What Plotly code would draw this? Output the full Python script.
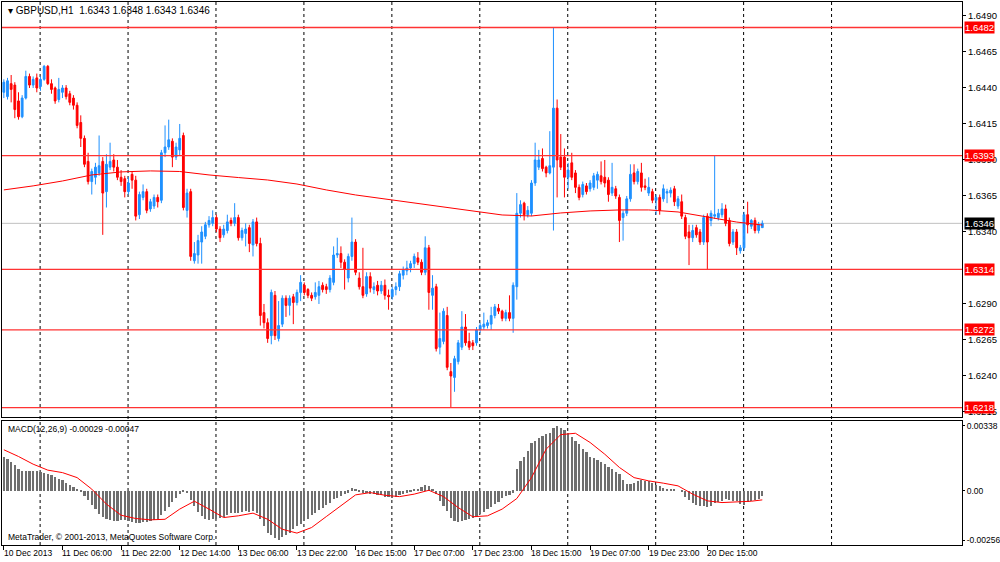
import plotly.graph_objects as go

# prices are kept in pips above 1.6000 (1 pip = 0.0001)
BASE = 1.6
PIP = 0.0001

open_pips = [
    437, 434, 443, 442, 431, 420, 433, 448, 442, 447,
    441, 446, 455, 443, 440, 432, 437, 440, 436, 433,
    428, 416, 405, 389, 375, 378, 381, 389, 368, 385,
    390, 385, 378, 377, 368, 380, 376, 352, 364, 368,
    356, 358, 364, 362, 395, 399, 403, 392, 397, 407,
    355, 368, 320, 324, 333, 337, 345, 346, 350, 342,
    338, 341, 348, 346, 350, 336, 339, 343, 331, 347,
    332, 284, 277, 268, 296, 266, 276, 294, 289, 295,
    291, 298, 303, 300, 296, 295, 296, 303, 302, 300,
    305, 324, 325, 319, 308, 323, 333, 308, 302, 297,
    309, 300, 303, 299, 303, 296, 295, 300, 302, 310,
    313, 315, 318, 322, 319, 312, 329, 296, 302, 260,
    264, 282, 243, 239, 250, 260, 274, 264, 263, 263,
    272, 274, 275, 276, 282, 287, 285, 280, 284, 280,
    302, 353, 360, 352, 353, 374, 385, 391, 385, 381,
    385, 426, 392, 392, 378, 388, 381, 371, 366, 372,
    370, 371, 376, 379, 378, 376, 367, 370, 364, 350,
    353, 363, 381, 375, 381, 372, 367, 368, 362, 364,
    363, 367, 367, 370, 358, 361, 350, 340, 336, 343,
    340, 333, 351, 348, 351, 350, 352, 356, 348, 333,
    340, 327, 329, 352, 344, 348, 341, 343,
]
high_pips = [
    446, 447, 449, 444, 437, 435, 452, 450, 448, 450,
    448, 456, 456, 446, 441, 447, 442, 442, 438, 435,
    430, 421, 407, 395, 384, 388, 407, 392, 394, 402,
    394, 390, 383, 379, 378, 382, 379, 368, 373, 370,
    363, 366, 366, 397, 414, 418, 405, 402, 415, 409,
    370, 370, 333, 338, 344, 347, 351, 355, 352, 344,
    345, 352, 350, 360, 352, 343, 346, 345, 349, 350,
    336, 290, 280, 300, 299, 292, 296, 296, 296, 297,
    300, 310, 305, 301, 298, 305, 306, 305, 304, 310,
    330, 336, 330, 321, 325, 350, 335, 312, 329, 312,
    312, 305, 306, 306, 307, 300, 302, 305, 313, 316,
    320, 320, 325, 326, 321, 337, 331, 310, 304, 284,
    287, 288, 249, 254, 265, 285, 283, 270, 265, 274,
    277, 284, 279, 288, 290, 290, 286, 286, 296, 305,
    367, 362, 361, 358, 376, 402, 397, 398, 386, 410,
    482, 432, 408, 398, 388, 395, 383, 373, 375, 374,
    376, 381, 382, 389, 390, 378, 388, 372, 366, 355,
    365, 387, 387, 384, 388, 377, 378, 370, 366, 366,
    373, 370, 371, 372, 365, 366, 352, 345, 345, 345,
    342, 352, 353, 355, 393, 356, 360, 359, 350, 342,
    342, 331, 354, 361, 349, 350, 347, 348,
]
low_pips = [
    433, 432, 430, 419, 418, 419, 432, 440, 440, 437,
    438, 445, 442, 436, 429, 430, 433, 432, 428, 425,
    412, 399, 385, 373, 366, 373, 379, 338, 357, 383,
    382, 376, 372, 364, 366, 370, 348, 349, 362, 353,
    354, 356, 357, 360, 392, 397, 385, 390, 393, 355,
    350, 320, 318, 318, 318, 335, 343, 344, 340, 333,
    336, 339, 344, 344, 334, 334, 330, 326, 323, 330,
    275, 273, 263, 262, 265, 264, 274, 281, 282, 276,
    289, 292, 296, 294, 292, 293, 290, 298, 297, 298,
    303, 322, 315, 300, 305, 320, 310, 300, 294, 295,
    298, 297, 296, 297, 293, 286, 293, 296, 299, 307,
    310, 312, 315, 317, 310, 310, 286, 286, 257, 255,
    262, 244, 218, 229, 248, 258, 261, 258, 258, 261,
    270, 272, 273, 272, 280, 283, 278, 278, 278, 270,
    293, 350, 348, 350, 351, 372, 383, 382, 378, 380,
    341, 364, 383, 364, 370, 376, 367, 362, 364, 366,
    368, 369, 370, 373, 371, 361, 365, 363, 333, 334,
    351, 361, 373, 373, 368, 369, 365, 360, 352, 352,
    361, 360, 364, 358, 356, 349, 335, 317, 333, 336,
    331, 331, 314, 344, 349, 348, 350, 344, 330, 331,
    324, 325, 327, 339, 342, 339, 339, 343,
]
close_pips = [
    444, 445, 439, 425, 420, 433, 448, 442, 446, 440,
    446, 455, 443, 439, 431, 439, 440, 434, 430, 428,
    414, 405, 387, 375, 382, 385, 386, 367, 387, 389,
    385, 378, 375, 368, 374, 376, 351, 366, 368, 355,
    361, 364, 361, 395, 399, 404, 392, 399, 405, 357,
    367, 323, 325, 334, 340, 345, 348, 350, 342, 336,
    342, 347, 346, 350, 336, 341, 342, 332, 347, 332,
    282, 277, 266, 298, 268, 275, 294, 289, 294, 291,
    298, 305, 298, 296, 294, 298, 302, 300, 300, 308,
    324, 325, 319, 314, 323, 333, 312, 302, 296, 309,
    301, 302, 299, 303, 296, 295, 300, 302, 311, 314,
    315, 318, 323, 319, 312, 329, 298, 301, 259, 266,
    285, 246, 240, 252, 263, 274, 263, 260, 261, 272,
    275, 276, 277, 282, 288, 285, 280, 284, 280, 303,
    353, 359, 352, 355, 374, 390, 390, 384, 381, 386,
    426, 390, 385, 378, 383, 378, 371, 364, 373, 368,
    374, 379, 380, 375, 374, 366, 371, 365, 348, 353,
    363, 380, 375, 382, 371, 371, 371, 362, 364, 355,
    370, 368, 369, 361, 363, 351, 337, 336, 341, 338,
    333, 350, 333, 353, 352, 353, 356, 346, 332, 340,
    329, 329, 352, 345, 348, 341, 345, 346,
]

# moving average, read every 8th bar
ma_bars = list(range(0, 201, 8)) + [207]
ma_pips = [
    369.2, 372.0, 375.4, 379.6, 381.7, 382.4, 382.0, 379.6, 377.8, 376.1,
    373.3, 369.2, 365.7, 362.9, 360.1, 357.4, 354.6, 351.8, 351.1, 353.2,
    354.6, 355.3, 355.3, 353.9, 350.4, 346.9, 344.8,
]

# MACD(12,26,9) in units of 0.00001
macd_main = [
    174, 165, 151, 134, 113, 104, 104, 104, 104, 102,
    99, 95, 90, 82, 73, 64, 56, 43, 33, 21,
    9, -5, -26, -47, -73, -95, -122, -134, -144, -153,
    -158, -156, -151, -151, -156, -161, -168, -165, -161, -161,
    -158, -151, -144, -127, -104, -82, -57, -35, -17, -5,
    -12, -47, -78, -109, -130, -148, -151, -148, -144, -139,
    -134, -127, -116, -113, -113, -109, -104, -109, -104, -113,
    -148, -182, -217, -231, -248, -256, -240, -231, -217, -200,
    -182, -174, -156, -144, -127, -113, -99, -87, -73, -61,
    -43, -35, -26, -17, -9, 14, 5, -5, -9, -12,
    -16, -17, -21, -23, -30, -31, -35, -30, -23, -14,
    -9, -2, 5, 12, 19, 30, 23, 9, -17, -52,
    -78, -104, -139, -156, -161, -156, -153, -148, -142, -135,
    -122, -108, -92, -82, -66, -56, -35, -26, -23, -9,
    113, 156, 174, 208, 252, 260, 278, 286, 295, 304,
    325, 338, 330, 318, 300, 281, 260, 243, 220, 203,
    179, 170, 160, 151, 142, 127, 116, 99, 87, 57,
    35, 36, 43, 52, 59, 54, 50, 43, 33, 24,
    16, 10, 9, 5, 0, -5, -31, -47, -61, -71,
    -78, -78, -82, -78, -61, -57, -52, -43, -47, -52,
    -54, -69, -71, -57, -52, -50, -43, -29,
]
signal_bars = list(range(0, 205, 4)) + [207]
signal_vals = [
    214, 179, 139, 108, 95, 69, 9, -69, -127, -144,
    -151, -148, -95, -54, -95, -139, -130, -116, -148, -200,
    -220, -191, -134, -78, -21, -9, -23, -30, -17, 3,
    -30, -87, -135, -130, -95, -40, 69, 217, 293, 300,
    252, 191, 122, 69, 52, 40, 26, -17, -52, -61,
    -57, -54, -47,
]

level_prices = [1.6482, 1.6393, 1.6314, 1.6272, 1.6218]
bid_price = 1.6346

time_labels = [
    "10 Dec 2013", "11 Dec 06:00", "11 Dec 22:00", "12 Dec 14:00", "13 Dec 06:00",
    "13 Dec 22:00", "16 Dec 15:00", "17 Dec 07:00", "17 Dec 23:00", "18 Dec 15:00",
    "19 Dec 07:00", "19 Dec 23:00", "20 Dec 15:00",
]
time_label_bars = [0, 16, 32, 48, 64, 80, 96, 112, 128, 144, 160, 176, 192]

# 1.6315 sits fully under the 1.6314 level label in the reference
price_ticks = [1.6490, 1.6465, 1.6440, 1.6415, 1.6390, 1.6365, 1.6340,
               1.6290, 1.6265, 1.6240, 1.6215]
macd_ticks = [0.00338, 0.0, -0.00256]
macd_tick_text = ["0.00338", "0.00", "-0.00256"]

BLUE = "#1e90ff"
RED = "#ff0000"
FONT = "Liberation Sans"

bars = list(range(len(close_pips)))
to_price = lambda vals: [BASE + v * PIP for v in vals]

fig = go.Figure()

fig.add_trace(go.Candlestick(
    x=bars, open=to_price(open_pips), high=to_price(high_pips),
    low=to_price(low_pips), close=to_price(close_pips),
    increasing=dict(line=dict(color=BLUE, width=1), fillcolor=BLUE),
    decreasing=dict(line=dict(color=RED, width=1), fillcolor=RED),
    whiskerwidth=0, showlegend=False, hoverinfo="skip",
    xaxis="x", yaxis="y",
))
fig.add_trace(go.Scatter(
    x=ma_bars, y=to_price(ma_pips), mode="lines",
    line=dict(color=RED, width=1), showlegend=False, hoverinfo="skip",
    xaxis="x", yaxis="y",
))
fig.add_trace(go.Bar(
    x=bars, y=[v * 1e-5 for v in macd_main], width=0.6,
    marker=dict(color="#6f6f6f", line=dict(width=0)),
    showlegend=False, hoverinfo="skip", xaxis="x2", yaxis="y2",
))
fig.add_trace(go.Scatter(
    x=signal_bars, y=[v * 1e-5 for v in signal_vals], mode="lines",
    line=dict(color=RED, width=1), showlegend=False, hoverinfo="skip",
    xaxis="x2", yaxis="y2",
))

shapes = []
# dashed vertical grid across both panels
for k in range(10):
    gx = 9.9 + 24 * k
    shapes.append(dict(type="line", xref="x", yref="paper", x0=gx, x1=gx, y0=0, y1=1,
                       line=dict(color="black", width=1, dash="3px,3px"), layer="below"))
shapes.append(dict(type="line", xref="x domain", yref="y", x0=0, x1=1,
                   y0=bid_price, y1=bid_price, line=dict(color="#c0c0c0", width=1),
                   layer="below"))
for p in level_prices:
    shapes.append(dict(type="line", xref="x domain", yref="y", x0=0, x1=1, y0=p, y1=p,
                       line=dict(color="#ff3333", width=1.4)))

annotations = [
    dict(xref="paper", yref="paper", x=0, y=1, xanchor="left", yanchor="top",
         xshift=4, yshift=-1, showarrow=False,
         text="\u25be GBPUSD,H1  " + " ".join(
             f"{BASE + v[-1] * PIP:.4f}" for v in (open_pips, high_pips, low_pips, close_pips)),
         font=dict(family=FONT, size=10, color="black")),
    dict(xref="paper", yref="y2 domain", x=0, y=1, xanchor="left", yanchor="top",
         xshift=4, yshift=-1, showarrow=False,
         text=f"MACD(12,26,9) {macd_main[-1] * 1e-5:.5f} {signal_vals[-1] * 1e-5:.5f}",
         font=dict(family=FONT, size=8.5, color="black")),
    dict(xref="paper", yref="y2 domain", x=0, y=0, xanchor="left", yanchor="bottom",
         xshift=4, yshift=1, showarrow=False,
         text="MetaTrader, \u00a9 2001-2013, MetaQuotes Software Corp.",
         font=dict(family=FONT, size=8.5, color="black")),
]
for p in level_prices:
    annotations.append(dict(xref="paper", yref="y", x=1, y=p, xanchor="left", yanchor="middle",
                            xshift=2, showarrow=False, text=f"{p:.4f}", bgcolor="#ff0000",
                            borderpad=0, font=dict(family=FONT, size=9.5, color="white")))
annotations.append(dict(xref="paper", yref="y", x=1, y=bid_price, xanchor="left",
                        yanchor="middle", xshift=2, showarrow=False, text=f"{bid_price:.4f}",
                        bgcolor="black", borderpad=0,
                        font=dict(family=FONT, size=9.5, color="white")))
for lab, b in zip(time_labels, time_label_bars):
    annotations.append(dict(xref="x2", yref="paper", x=b, y=0, xanchor="left", yanchor="top",
                            xshift=-2, yshift=-1, showarrow=False, text=lab,
                            font=dict(family=FONT, size=8.5, color="black")))

xrange = [-0.5, 261.5]
frame = dict(showline=True, mirror=True, linecolor="black", linewidth=1, zeroline=False,
             showgrid=False, fixedrange=True)

fig.update_layout(
    width=1000, height=562,
    margin=dict(l=2, r=38, t=2, b=17, autoexpand=False),
    paper_bgcolor="white", plot_bgcolor="white",
    font=dict(family=FONT, size=9, color="black"),
    showlegend=False,
    bargap=0,
    xaxis=dict(domain=[0, 1], range=xrange, anchor="y", showticklabels=False, ticks="",
               rangeslider=dict(visible=False), **frame),
    xaxis2=dict(domain=[0, 1], range=xrange, anchor="y2", tickmode="array",
                tickvals=time_label_bars, showticklabels=False, ticks="outside", ticklen=4,
                tickcolor="black", **frame),
    yaxis=dict(domain=[0.2357, 1], range=[1.62115, 1.64997], anchor="x", side="right",
               tickmode="array", tickvals=price_ticks,
               ticktext=[f"{t:.4f}" for t in price_ticks], ticks="outside", ticklen=3,
               tickcolor="black", tickfont=dict(family=FONT, size=9.5), **frame),
    yaxis2=dict(domain=[0, 0.2284], range=[-0.00282, 0.00364], anchor="x2", side="right",
                tickmode="array", tickvals=macd_ticks, ticktext=macd_tick_text,
                ticks="outside", ticklen=2, tickcolor="black",
                tickfont=dict(family=FONT, size=8.5), **frame),
    shapes=shapes,
    annotations=annotations,
)

fig.write_html(
    "out.html",
    config={"displayModeBar": False},
    post_script="document.body.style.margin='0';document.body.style.overflow='hidden';",
)
